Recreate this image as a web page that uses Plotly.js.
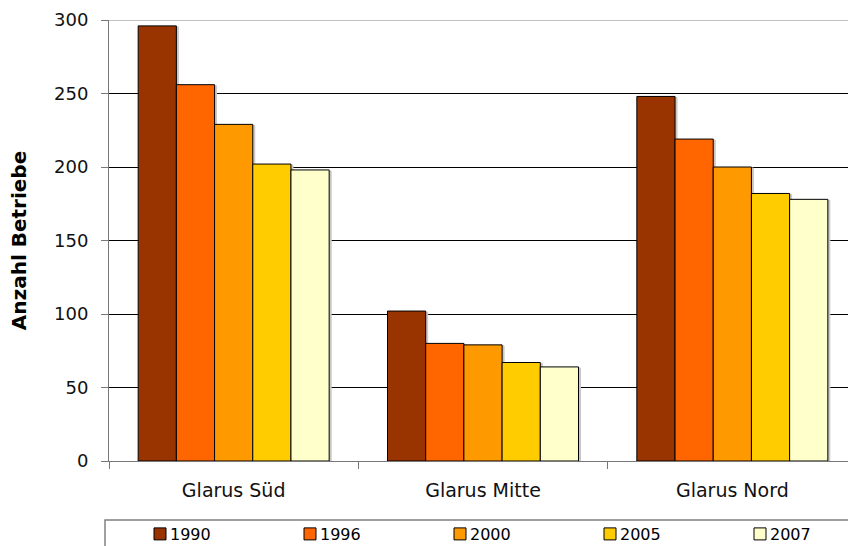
<!DOCTYPE html>
<html>
<head>
<meta charset="utf-8">
<script src="https://cdn.plot.ly/plotly-3.0.1.min.js"></script>
<style>
html,body{margin:0;padding:0;overflow:hidden;background:#fff;width:848px;height:546px;}
#chart{width:900px;height:546px;}
.barlayer .point path{filter:drop-shadow(2px 1px 0 #c8c8c8);}
.legend .legendsymbols{transform:translateX(10px);}
</style>
</head>
<body>
<div id="chart"></div>
<script>
const categories = ["Glarus Süd", "Glarus Mitte", "Glarus Nord"];
const years = ["1990", "1996", "2000", "2005", "2007"];
const values1990 = [296, 102, 248];
const values1996 = [256, 80, 219];
const values2000 = [229, 79, 200];
const values2005 = [202, 67, 182];
const values2007 = [198, 64, 178];
const colors = ["#993300", "#FF6600", "#FF9900", "#FFCC00", "#FFFFCC"];
const yTicks = [0, 50, 100, 150, 200, 250, 300];

const series = [values1990, values1996, values2000, values2005, values2007];
const traces = series.map((vals, i) => ({
  type: "bar",
  name: years[i],
  x: categories,
  y: vals,
  marker: {color: colors[i], line: {color: "#000", width: 1}},
  hoverinfo: "x+y+name"
}));

const font = "DejaVu Sans, Verdana, sans-serif";
const layout = {
  width: 900, height: 546,
  margin: {l: 109, r: 43, t: 20, b: 85},
  paper_bgcolor: "#fff", plot_bgcolor: "#fff",
  barmode: "group", bargap: 0.234, bargroupgap: 0,
  font: {family: font, color: "#000"},
  xaxis: {
    type: "category", range: [-0.5, 2.5],
    tickson: "boundaries", ticks: "outside", ticklen: 7, tickcolor: "#777",
    showline: true, linecolor: "#777", linewidth: 1,
    showgrid: false, zeroline: false,
    tickfont: {size: 19, family: font, color: "#111"},
    ticklabelstandoff: 12
  },
  yaxis: {
    range: [0, 300], tickvals: yTicks, ticktext: yTicks.map(String),
    ticks: "outside", ticklen: 7, tickcolor: "#777",
    showline: true, linecolor: "#777", linewidth: 1,
    showgrid: true, gridcolor: "#000", gridwidth: 1, zeroline: false,
    tickfont: {size: 18, family: font, color: "#111"},
    ticklabelstandoff: 9,
    title: {text: "\u00a0\u00a0\u00a0Anzahl Betriebe", font: {size: 20, family: font, weight: "bold", color: "#000"}, standoff: 22}
  },
  showlegend: true,
  legend: {
    orientation: "h", xref: "container", yref: "container",
    x: 130 / 900, xanchor: "left", y: (546 - 517) / 546, yanchor: "top",
    font: {size: 16, family: font, color: "#000"},
    entrywidth: 105, entrywidthmode: "pixels",
    borderwidth: 0, bgcolor: "rgba(0,0,0,0)", traceorder: "normal"
  },
  shapes: [
    {type: "line", xref: "paper", yref: "y", x0: 0, x1: 1, y0: yTicks[yTicks.length - 1], y1: yTicks[yTicks.length - 1],
     line: {color: "#888", width: 1}},
    {type: "rect", xref: "paper", yref: "paper",
     x0: -0.00535, x1: 1.1, y0: -0.1338, y1: -0.3,
     line: {color: "#808080", width: 1.5}, fillcolor: "rgba(0,0,0,0)", layer: "below"}
  ]
};

Plotly.newPlot("chart", traces, layout, {displayModeBar: false, staticPlot: true});
</script>
</body>
</html>
